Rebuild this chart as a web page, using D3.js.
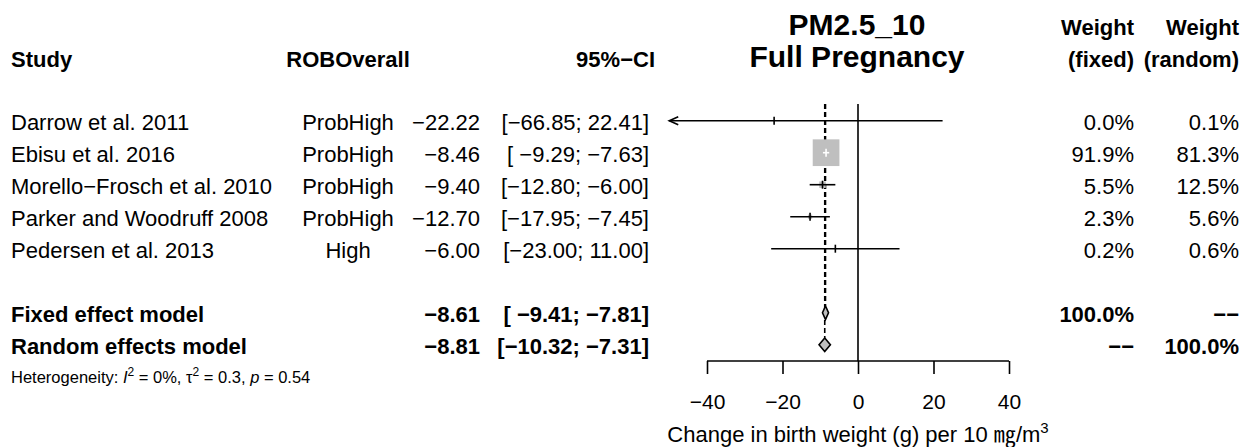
<!DOCTYPE html>
<html>
<head>
<meta charset="utf-8">
<script src="https://cdn.jsdelivr.net/npm/d3@7"></script>
<style>
  html, body { margin: 0; padding: 0; background: #fff; }
  svg { display: block; }
  text { font-family: "Liberation Sans", Arial, sans-serif; fill: #000; white-space: pre; }
</style>
</head>
<body>
<svg id="chart" width="1247" height="447"></svg>
<script>
// Study-level data
const studies = ["Darrow et al. 2011", "Ebisu et al. 2016", "Morello\u2212Frosch et al. 2010",
                 "Parker and Woodruff 2008", "Pedersen et al. 2013"];
const robOverall = ["ProbHigh", "ProbHigh", "ProbHigh", "ProbHigh", "High"];
const estimates = [-22.22, -8.46, -9.40, -12.70, -6.00];
const lowerCI = [-66.85, -9.29, -12.80, -17.95, -23.00];
const upperCI = [22.41, -7.63, -6.00, -7.45, 11.00];
const weightFixed = [0.0, 91.9, 5.5, 2.3, 0.2];
const weightRandom = [0.1, 81.3, 12.5, 5.6, 0.6];

// Pooled estimates
const modelNames = ["Fixed effect model", "Random effects model"];
const modelEstimates = [-8.61, -8.81];
const modelLower = [-9.41, -10.32];
const modelUpper = [-7.81, -7.31];
const modelWeightFixed = ["100.0%", "\u2212\u2212"];
const modelWeightRandom = ["\u2212\u2212", "100.0%"];

const axisTicks = [-40, -20, 0, 20, 40];

const svg = d3.select("#chart");
const FS = 22;

// Horizontal effect scale and row scale
const x = d3.scaleLinear().domain([-40, 40]).range([707, 1009]);
const xMinShown = -50;
const y = d3.scaleLinear().domain([0, 1]).range([120.7, 152.7]);   // row index -> line centre
const base = i => y(i) + 9.3;                                       // text baseline for a row
const boxSide = d3.scaleSqrt().domain([0, 91.9]).range([0, 26.7]);

const fmt = d3.format(".2f");
const pad = (s, w) => " ".repeat(Math.max(0, w - s.length)) + s;
const ciText = (lo, hi) => "[" + pad(fmt(lo), 6) + "; " + fmt(hi) + "]";
const pct = d3.format(".1f");

// Column headers
const hdr = svg.append("g").attr("font-weight", "bold").attr("font-size", FS);
hdr.append("text").attr("x", 11).attr("y", 66.5).text("Study");
hdr.append("text").attr("x", 348).attr("y", 66.5).attr("text-anchor", "middle").text("ROBOverall");
hdr.append("text").attr("x", 655).attr("y", 66.5).attr("text-anchor", "end").text("95%\u2212CI");
hdr.append("text").attr("x", 1134).attr("y", 34.5).attr("text-anchor", "end").text("Weight");
hdr.append("text").attr("x", 1134).attr("y", 66.5).attr("text-anchor", "end").text("(fixed)");
hdr.append("text").attr("x", 1239).attr("y", 34.5).attr("text-anchor", "end").text("Weight");
hdr.append("text").attr("x", 1239).attr("y", 66.5).attr("text-anchor", "end").text("(random)");

const title = svg.append("g").attr("font-weight", "bold").attr("font-size", 30).attr("text-anchor", "middle");
title.append("text").attr("x", 857).attr("y", 35).text("PM2.5_10");
title.append("text").attr("x", 857).attr("y", 66.7).text("Full Pregnancy");

// Study rows text
const rows = svg.append("g").attr("font-size", FS);
studies.forEach((s, i) => {
  rows.append("text").attr("x", 11).attr("y", base(i)).text(s);
  rows.append("text").attr("x", 348).attr("y", base(i)).attr("text-anchor", "middle").text(robOverall[i]);
  rows.append("text").attr("x", 480).attr("y", base(i)).attr("text-anchor", "end").text(fmt(estimates[i]));
  rows.append("text").attr("x", 649).attr("y", base(i)).attr("text-anchor", "end").text(ciText(lowerCI[i], upperCI[i]));
  rows.append("text").attr("x", 1134).attr("y", base(i)).attr("text-anchor", "end").text(pct(weightFixed[i]) + "%");
  rows.append("text").attr("x", 1239).attr("y", base(i)).attr("text-anchor", "end").text(pct(weightRandom[i]) + "%");
});

// Pooled rows text
const pooled = svg.append("g").attr("font-size", FS).attr("font-weight", "bold");
modelNames.forEach((m, j) => {
  const i = 6 + j;
  pooled.append("text").attr("x", 11).attr("y", base(i)).text(m);
  pooled.append("text").attr("x", 480).attr("y", base(i)).attr("text-anchor", "end").text(fmt(modelEstimates[j]));
  pooled.append("text").attr("x", 649).attr("y", base(i)).attr("text-anchor", "end").text(ciText(modelLower[j], modelUpper[j]));
  pooled.append("text").attr("x", 1134).attr("y", base(i)).attr("text-anchor", "end").text(modelWeightFixed[j]);
  pooled.append("text").attr("x", 1239).attr("y", base(i)).attr("text-anchor", "end").text(modelWeightRandom[j]);
});

// Heterogeneity line
const het = svg.append("text").attr("x", 11).attr("y", base(8) - 3).attr("font-size", 16.5);
het.append("tspan").text("Heterogeneity: ");
het.append("tspan").attr("font-style", "italic").text("I");
het.append("tspan").attr("font-size", 12).attr("dy", -7).text("2");
het.append("tspan").attr("dy", 7).text(" = 0%, ");
het.append("tspan").text("\u03c4");
het.append("tspan").attr("font-size", 12).attr("dy", -7).text("2");
het.append("tspan").attr("dy", 7).text(" = 0.3, ");
het.append("tspan").attr("font-style", "italic").text("p");
het.append("tspan").text(" = 0.54");

// Plot lines
const plot = svg.append("g");
const topY = 104;
const axisY = 361;

// Line of no effect
plot.append("line")
  .attr("x1", x(0)).attr("x2", x(0)).attr("y1", topY).attr("y2", axisY)
  .attr("stroke", "#000").attr("stroke-width", 1.6);

// Pooled estimate reference lines (dashed)
modelEstimates.forEach((m, j) => {
  plot.append("line")
    .attr("x1", x(m)).attr("x2", x(m))
    .attr("y1", topY).attr("y2", y(6 + j) - 7)
    .attr("stroke", "#000").attr("stroke-width", 1.6)
    .attr("stroke-dasharray", "5,3");
});

// Study squares, CIs and point ticks
studies.forEach((s, i) => {
  const cy = y(i);
  const side = boxSide(weightFixed[i]);
  const lo = Math.max(lowerCI[i], xMinShown);
  const clipped = lowerCI[i] < xMinShown;
  plot.append("rect")
    .attr("x", x(estimates[i]) - side / 2).attr("y", cy - side / 2)
    .attr("width", side).attr("height", side)
    .attr("fill", "#bfbfbf");
  const xl = x(lo), xr = x(upperCI[i]);
  const inside = side > (xr - xl);
  plot.append("line")
    .attr("x1", xl).attr("x2", xr).attr("y1", cy).attr("y2", cy)
    .attr("stroke", inside ? "#fff" : "#000").attr("stroke-width", 1.6);
  plot.append("line")
    .attr("x1", x(estimates[i])).attr("x2", x(estimates[i]))
    .attr("y1", cy - 4).attr("y2", cy + 4)
    .attr("stroke", inside ? "#fff" : "#000").attr("stroke-width", 1.6);
  if (clipped) {
    plot.append("path")
      .attr("d", `M${xl + 9},${cy - 4}L${xl},${cy}L${xl + 9},${cy + 4}`)
      .attr("fill", "none").attr("stroke", "#000").attr("stroke-width", 1.6);
  }
});

// Pooled diamonds
modelEstimates.forEach((m, j) => {
  const cy = y(6 + j);
  const h = 6.8;
  plot.append("path")
    .attr("d", `M${x(modelLower[j])},${cy}L${x(m)},${cy - h}L${x(modelUpper[j])},${cy}L${x(m)},${cy + h}Z`)
    .attr("fill", "#bfbfbf").attr("stroke", "#000").attr("stroke-width", 1.6);
});

// Axis
const axis = svg.append("g").attr("transform", `translate(0,${axisY})`)
  .call(d3.axisBottom(x).tickValues(axisTicks).tickSize(13).tickPadding(20).tickFormat(d3.format("d")));
axis.select(".domain").attr("stroke-width", 1.6).attr("d", `M${x(-40)},0H${x(40)}`);
axis.selectAll(".tick line").attr("stroke-width", 1.6);
axis.selectAll(".tick text").attr("font-size", 21).attr("font-family", "Liberation Sans, Arial, sans-serif");

const xlab = svg.append("text").attr("x", x(0)).attr("y", 442)
  .attr("text-anchor", "middle").attr("font-size", FS);
xlab.append("tspan").text("Change in birth weight (g) per 10 ");
xlab.append("tspan").attr("font-family", "Noto Sans CJK JP").text("\u338e");
xlab.append("tspan").text("/m");
xlab.append("tspan").attr("font-size", 15).attr("dy", -9).text("3");
</script>
</body>
</html>
